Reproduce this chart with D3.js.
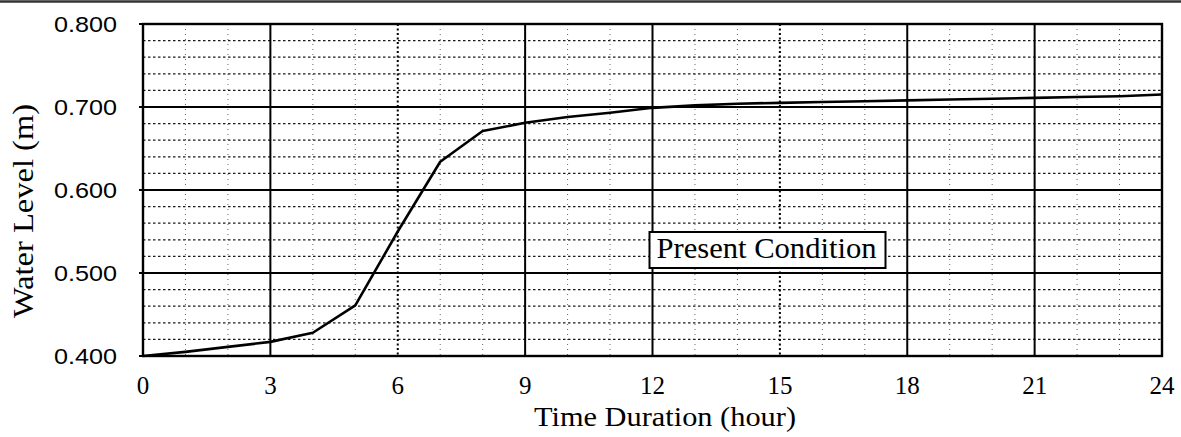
<!DOCTYPE html>
<html>
<head>
<meta charset="utf-8">
<script src="https://cdn.jsdelivr.net/npm/d3@7"></script>
<style>
  html, body { margin: 0; padding: 0; background: #fff; }
  svg { display: block; }
</style>
</head>
<body>
<svg id="chart" width="1181" height="437"></svg>
<script>
// ---- data ----
const hours = [0,1,2,3,4,5,6,7,8,9,10,11,12,13,14,15,16,17,18,19,20,21,22,23,24];
const waterLevel = [0.400,0.405,0.411,0.417,0.428,0.461,0.550,0.634,0.671,0.681,0.688,0.693,0.699,0.702,0.704,0.705,0.706,0.707,0.708,0.709,0.710,0.711,0.712,0.713,0.715];
const xTicks = [0,3,6,9,12,15,18,21,24];
const yTicks = [0.4,0.5,0.6,0.7,0.8];
const yTickLabels = ["0.400","0.500","0.600","0.700","0.800"];
const solidVerticals = [3,9,12,18,21];
const dashedVerticals = [6,15];
const xMinor = d3.range(1,24).filter(h => h % 3 !== 0);
const yMinor = d3.range(0.42,0.8,0.02).filter(v => Math.abs(v*10 - Math.round(v*10)) > 0.01);
const seriesLabel = "Present Condition";
const xTitle = "Time Duration (hour)";
const yTitle = "Water Level (m)";

// ---- layout ----
const svg = d3.select("#chart");
const L = 143, R = 1162, T = 24, B = 356;
const x = d3.scaleLinear().domain([0,24]).range([L,R]);
const y = d3.scaleLinear().domain([0.4,0.8]).range([B,T]);
const serif = "'Liberation Serif','Times New Roman',serif";

// scan edge line at top
svg.append("line").attr("x1",0).attr("x2",1181).attr("y1",1.5).attr("y2",1.5)
  .attr("stroke","#333").attr("stroke-width",2.5);

const g = svg.append("g");

// minor vertical grid (every hour)
g.selectAll(".xminor").data(xMinor).join("line")
  .attr("x1",d=>x(d)).attr("x2",d=>x(d)).attr("y1",T).attr("y2",B)
  .attr("stroke","#666").attr("stroke-width",1).attr("stroke-dasharray","1,4");

// minor horizontal grid
g.selectAll(".yminor").data(yMinor).join("line")
  .attr("x1",L).attr("x2",R).attr("y1",d=>y(d)).attr("y2",d=>y(d))
  .attr("stroke","#1a1a1a").attr("stroke-width",1.3).attr("stroke-dasharray","2.5,2.5");

// major horizontal grid
g.selectAll(".ymajor").data(yTicks.slice(1,-1)).join("line")
  .attr("x1",L-4).attr("x2",R).attr("y1",d=>y(d)).attr("y2",d=>y(d))
  .attr("stroke","#000").attr("stroke-width",1.8);

// major vertical grid
g.selectAll(".xsolid").data(solidVerticals).join("line")
  .attr("x1",d=>x(d)).attr("x2",d=>x(d)).attr("y1",T).attr("y2",B)
  .attr("stroke","#000").attr("stroke-width",2);
g.selectAll(".xdash").data(dashedVerticals).join("line")
  .attr("x1",d=>x(d)).attr("x2",d=>x(d)).attr("y1",T).attr("y2",B)
  .attr("stroke","#000").attr("stroke-width",2).attr("stroke-dasharray","2,2.5");

// frame
g.append("rect").attr("x",L).attr("y",T).attr("width",R-L).attr("height",B-T)
  .attr("fill","none").attr("stroke","#000").attr("stroke-width",2.4);
// outer ticks for y majors
g.selectAll(".ytk").data(yTicks).join("line")
  .attr("x1",L-4).attr("x2",L).attr("y1",d=>y(d)).attr("y2",d=>y(d))
  .attr("stroke","#000").attr("stroke-width",2);

// series line
const line = d3.line().x((d,i)=>x(hours[i])).y(d=>y(d));
g.append("path").datum(waterLevel).attr("d",line)
  .attr("fill","none").attr("stroke","#000").attr("stroke-width",2.6)
  .attr("stroke-linejoin","round");

// y tick labels
svg.selectAll(".ylab").data(yTicks).join("text")
  .attr("x",117).attr("y",d=>y(d)+8)
  .attr("text-anchor","end")
  .attr("font-family","'Liberation Sans',Arial,sans-serif")
  .attr("font-size",22)
  .attr("textLength",63).attr("lengthAdjust","spacingAndGlyphs")
  .attr("fill","#000")
  .text((d,i)=>yTickLabels[i]);

// x tick labels
svg.selectAll(".xlab").data(xTicks).join("text")
  .attr("x",d=>x(d)).attr("y",394)
  .attr("text-anchor","middle")
  .attr("font-family",serif).attr("font-size",25)
  .attr("fill","#000")
  .text(d=>d);

// axis titles
svg.append("text").attr("x",665).attr("y",426).attr("text-anchor","middle")
  .attr("font-family",serif).attr("font-size",28)
  .attr("textLength",262).attr("lengthAdjust","spacingAndGlyphs")
  .attr("fill","#000")
  .text(xTitle);
svg.append("text").attr("transform","translate(33,211) rotate(-90)")
  .attr("text-anchor","middle")
  .attr("font-family",serif).attr("font-size",30)
  .attr("textLength",214).attr("lengthAdjust","spacingAndGlyphs")
  .attr("fill","#000")
  .text(yTitle);

// series label box
const bx = x(12) - 3, by = 232, bw = 236, bh = 36;
svg.append("rect").attr("x",bx).attr("y",by).attr("width",bw).attr("height",bh)
  .attr("fill","#fff").attr("stroke","#000").attr("stroke-width",2);
svg.append("text").attr("x",bx+7).attr("y",by+26)
  .attr("font-family",serif).attr("font-size",30)
  .attr("textLength",220).attr("lengthAdjust","spacingAndGlyphs")
  .attr("fill","#000")
  .text(seriesLabel);
</script>
</body>
</html>
